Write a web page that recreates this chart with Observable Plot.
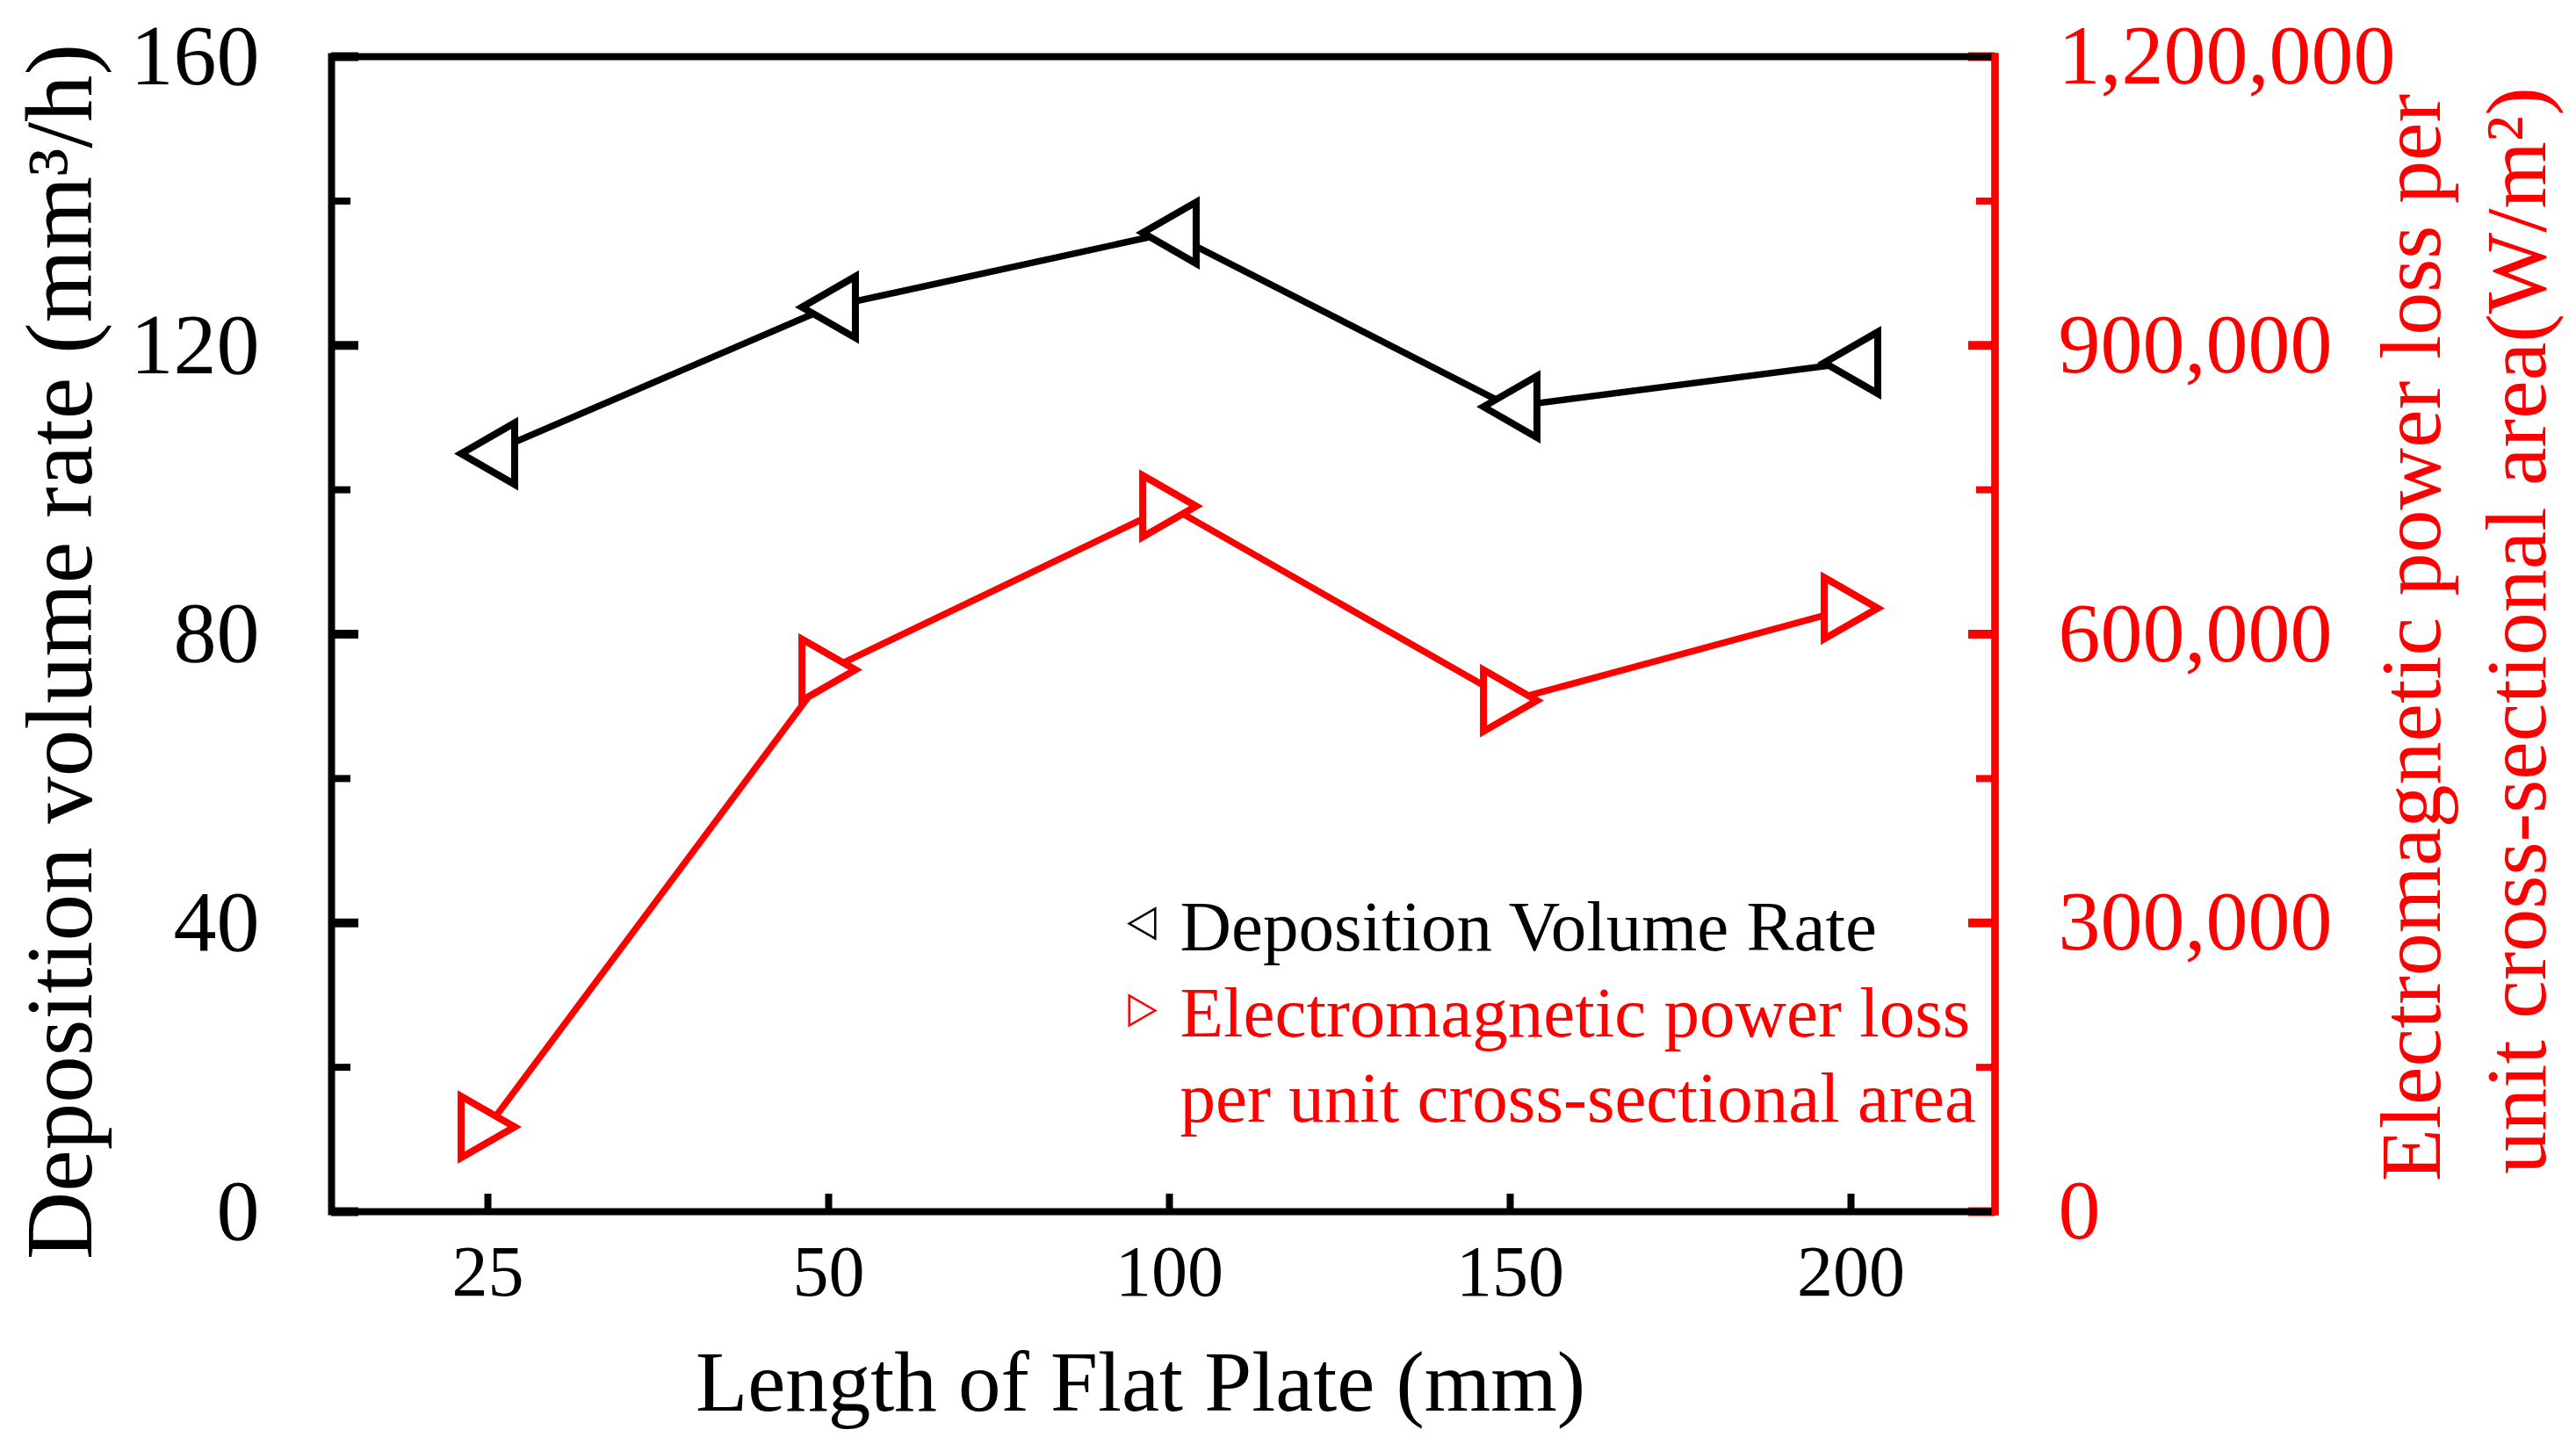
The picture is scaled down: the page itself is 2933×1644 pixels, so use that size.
<!DOCTYPE html>
<html>
<head>
<meta charset="utf-8">
<script src="https://cdn.jsdelivr.net/npm/d3@7"></script>
<script src="https://cdn.jsdelivr.net/npm/@observablehq/plot@0.6"></script>
<style>
  body { margin: 0; background: #fff; }
  #chart svg { display: block; }
</style>
</head>
<body>
<div id="chart"></div>
<script>
// values
const lengths = ["25", "50", "100", "150", "200"];
const depositionRate = [105.0, 125.3, 135.6, 111.5, 117.6];
const powerLoss = [88000, 563000, 733000, 531000, 627000];

const leftMajor = [0, 40, 80, 120, 160];
const leftMinor = [20, 60, 100, 140];
const rightMajor = [0, 300000, 600000, 900000, 1200000];
const rightMinor = [150000, 450000, 750000, 1050000];

// right axis is mapped onto the left one
const ratio = 1200000 / 160;

const rows = lengths.map((l, i) => ({length: l, rate: depositionRate[i], power: powerLoss[i]}));

const width = 2933, height = 1644;
const marginLeft = 377, marginRight = 662, marginTop = 64, marginBottom = 265;
const W = width - marginLeft - marginRight;
const H = height - marginTop - marginBottom;

// hollow triangles pointing left (-1) or right (+1)
function triangle(dir) {
  return {
    draw(context, size) {
      const r = Math.sqrt(size / Math.PI);
      const w = r * 0.87;
      context.moveTo(dir * w, 0);
      context.lineTo(-dir * w, -r);
      context.lineTo(-dir * w, r);
      context.closePath();
    }
  };
}
const leftTri = triangle(-1);
const rightTri = triangle(1);

const label = {textAnchor: "middle", lineAnchor: "middle"};
const legendText = {frameAnchor: "top-left", textAnchor: "start", lineAnchor: "middle", dx: 966, fontSize: 81};

const chart = Plot.plot({
  width, height, marginLeft, marginRight, marginTop, marginBottom,
  x: {type: "point", domain: lengths, padding: 0.44, align: 0.52},
  y: {domain: [0, 160]},
  style: {fontFamily: "Liberation Serif", background: "white", color: "black"},
  marks: [
    // inward ticks
    Plot.tickY(leftMajor, {y: d => d, stroke: "black", strokeWidth: 10, insetRight: W - 31}),
    Plot.tickY(leftMinor, {y: d => d, stroke: "black", strokeWidth: 8, insetRight: W - 22}),
    Plot.tickY(rightMajor, {y: d => d / ratio, stroke: "red", strokeWidth: 10, insetLeft: W - 30}),
    Plot.tickY(rightMinor, {y: d => d / ratio, stroke: "red", strokeWidth: 8, insetLeft: W - 21}),
    Plot.tickX(lengths, {x: d => d, stroke: "black", strokeWidth: 8, insetTop: H - 20}),

    Plot.frame({stroke: "black", strokeWidth: 8}),
    Plot.frame({anchor: "right", stroke: "red", strokeWidth: 8}),

    Plot.axisY({anchor: "left", ticks: leftMajor, tickSize: 0, tickPadding: 82, fontSize: 98, label: null}),
    Plot.axisY({
      anchor: "right",
      ticks: rightMajor.map(d => d / ratio),
      tickFormat: d => d3.format(",")(Math.round(d * ratio)),
      tickSize: 0, tickPadding: 72, fontSize: 96, fill: "red", label: null
    }),
    Plot.axisX({anchor: "bottom", tickSize: 0, tickPadding: 37, fontSize: 82, label: null}),

    // series
    Plot.line(rows, {x: "length", y: "rate", stroke: "black", strokeWidth: 7.5}),
    Plot.line(rows, {x: "length", y: d => d.power / ratio, stroke: "red", strokeWidth: 7.5}),
    Plot.dot(rows, {x: "length", y: "rate", symbol: leftTri, r: 35, stroke: "black", strokeWidth: 8, fill: "white"}),
    Plot.dot(rows, {x: "length", y: d => d.power / ratio, symbol: rightTri, r: 35, stroke: "red", strokeWidth: 8, fill: "white"}),

    // axis titles
    Plot.text(["Length of Flat Plate (mm)"], {...label, frameAnchor: "bottom", dx: -26, dy: 195, fontSize: 97}),
    Plot.text(["Deposition volume rate (mm³/h)"], {...label, frameAnchor: "left", rotate: -90, dx: -308, dy: 20, fontSize: 107}),
    Plot.text(["Electromagnetic power loss per"], {...label, frameAnchor: "right", rotate: -90, dx: 475, dy: 4, fontSize: 98, fill: "red"}),
    Plot.text(["unit cross-sectional area(W/m²)"], {...label, frameAnchor: "right", rotate: -90, dx: 595, dy: -4, fontSize: 98, fill: "red"}),

    // legend
    Plot.dot([0], {x: null, y: null, frameAnchor: "top-left", dx: 923, dy: 987, symbol: leftTri, r: 17, stroke: "black", strokeWidth: 2.5, fill: "white"}),
    Plot.dot([0], {x: null, y: null, frameAnchor: "top-left", dx: 923, dy: 1086, symbol: rightTri, r: 17, stroke: "red", strokeWidth: 2.5, fill: "white"}),
    Plot.text(["Deposition Volume Rate"], {...legendText, dy: 992}),
    Plot.text(["Electromagnetic power loss"], {...legendText, dy: 1090, fill: "red"}),
    Plot.text(["per unit cross-sectional area"], {...legendText, dy: 1187, fill: "red"})
  ]
});

d3.select("#chart").append(() => chart);
</script>
</body>
</html>
